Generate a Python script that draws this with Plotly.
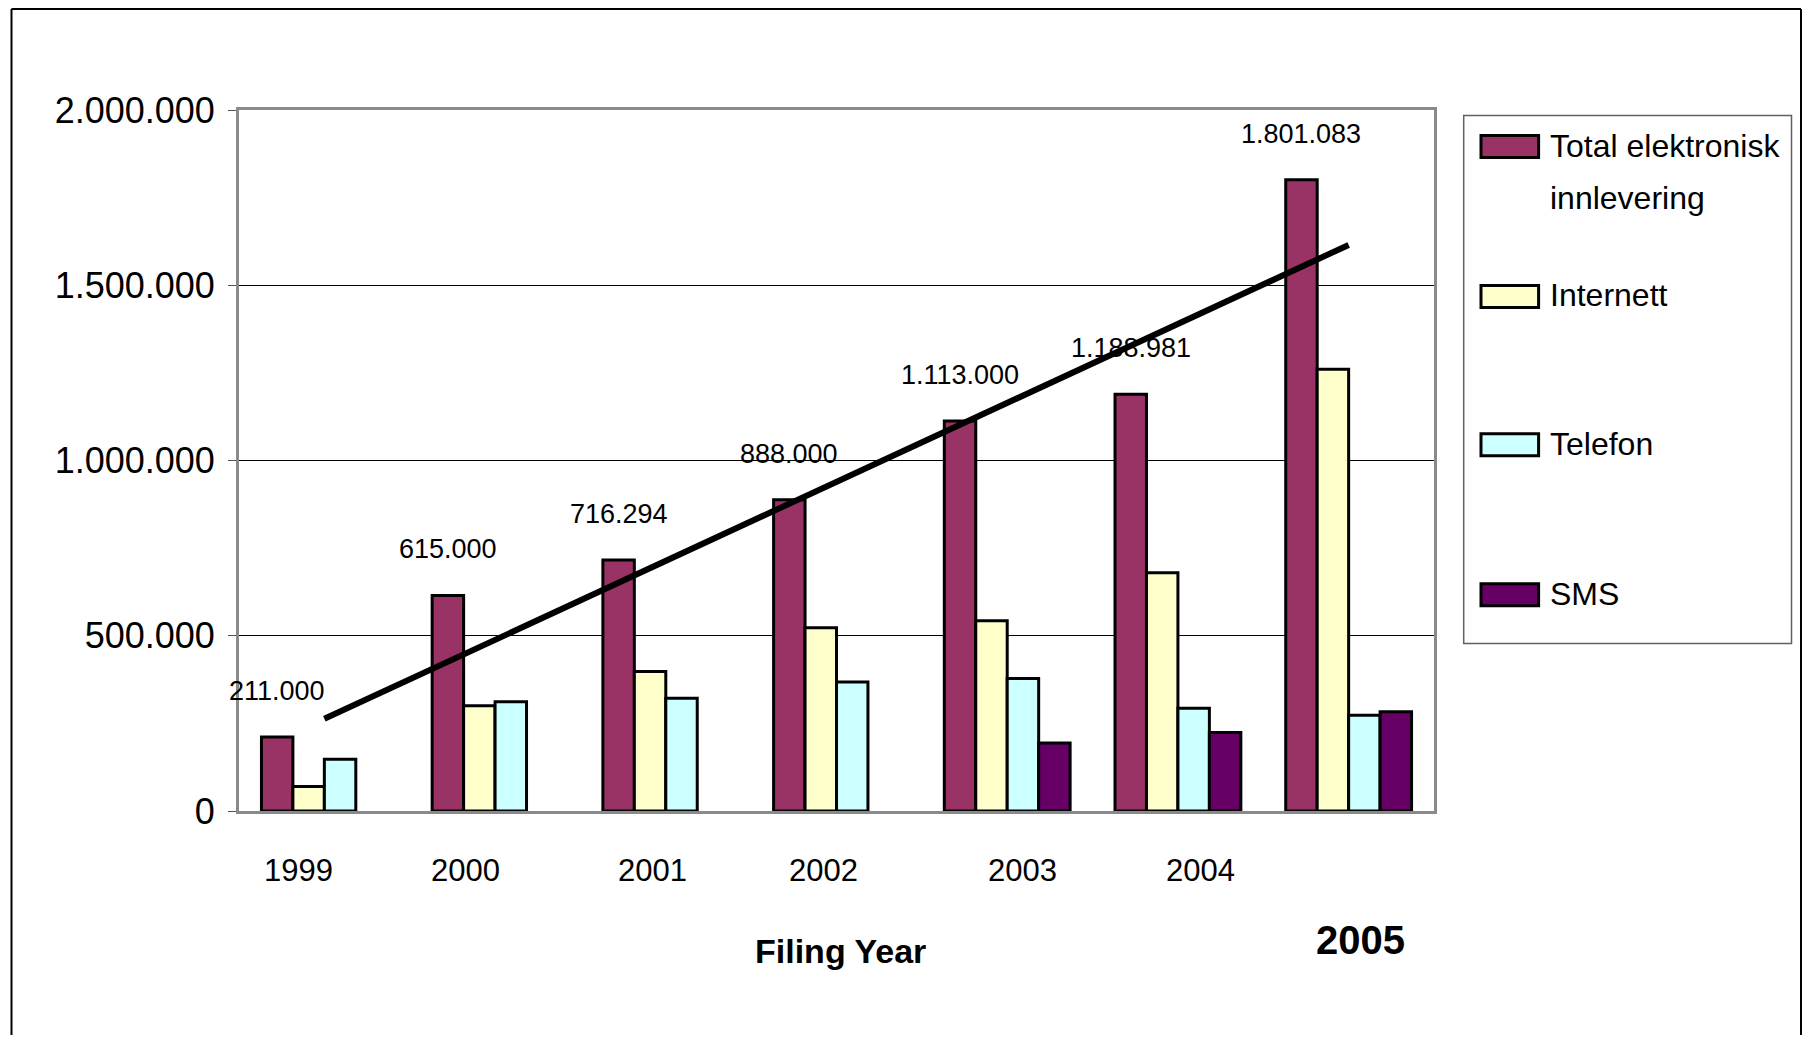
import plotly.graph_objects as go

# ---- data ----
years = ["1999", "2000", "2001", "2002", "2003", "2004", "2005"]
total = [211000, 615000, 716294, 888000, 1113000, 1188981, 1801083]
internett = [70000, 300000, 398000, 523000, 543000, 680000, 1260000]
telefon = [148000, 312000, 322000, 368000, 378000, 293000, 273000]
sms = [None, None, None, None, 194000, 224000, 283000]
trend_years = ["1999", "2005"]
trend_values = [263000, 1615000]

series_names = ["Total elektronisk<br>innlevering", "Internett", "Telefon", "SMS"]
series_colors = ["#993366", "#FFFFCC", "#CCFFFF", "#660066"]

# ---- page geometry (reference pixels) ----
W, H = 1794, 1027          # figure size; the page adds an 8px body margin
OFF = 8
PL, PR, PT, PB = 239, 1434, 110, 811.5   # plot area edges in the reference

FONT = "Liberation Sans, Arial, sans-serif"


def px(x):
    return (x - PL) / (PR - PL)


def py(y):
    return (PB - y) / (PB - PT)


fig = go.Figure()

for name, vals, col in zip(series_names, [total, internett, telefon, sms], series_colors):
    fig.add_trace(go.Bar(
        x=years, y=vals, name=name.replace("<br>", " "),
        marker=dict(color=col, line=dict(color="black", width=3)),
        showlegend=False,
    ))

# linear trend on the total
fig.add_trace(go.Scatter(
    x=trend_years, y=trend_values, mode="lines",
    line=dict(color="black", width=6), showlegend=False, hoverinfo="skip",
))

bargap = 0.263
slot = (PR - PL) / len(years) * (1 - bargap) / 4

annotations = []
# value labels above the total bars (category axis -> index positions)
for i, v in enumerate(total):
    annotations.append(dict(
        x=i, y=v, xref="x", yref="y", text=f"{v:,}".replace(",", "."),
        showarrow=False, xshift=-1.5 * slot, yshift=46, yanchor="middle",
        font=dict(family=FONT, size=27, color="black"),
    ))

# year labels (hand placed in the original)
nudges = [-26, -30, -13, -13, 15, 23]
for i, (yr, dx) in enumerate(zip(years[:-1], nudges)):
    annotations.append(dict(
        x=i, y=py(871.5), xref="x", yref="paper", text=yr, showarrow=False,
        xshift=dx, yanchor="middle", font=dict(family=FONT, size=31, color="black"),
    ))
annotations.append(dict(
    x=len(years) - 1, y=py(941), xref="x", yref="paper", text="<b>2005</b>", showarrow=False,
    xshift=12, yanchor="middle", font=dict(family=FONT, size=40, color="black"),
))
annotations.append(dict(
    x=px(840), y=py(952), xref="paper", yref="paper", text="<b>Filing Year</b>",
    showarrow=False, yanchor="middle", font=dict(family=FONT, size=34, color="black"),
))

# legend drawn by hand to get the wide swatches of the original
shapes = [dict(type="rect", xref="paper", yref="paper",
               x0=px(1463.7), x1=px(1791.5), y0=py(644), y1=py(115.4),
               line=dict(color="#606060", width=1.5), fillcolor="white")]
item_y = [146.6, 296.6, 445, 595]
line_step = 52
for name, col, yc in zip(series_names, series_colors, item_y):
    shapes.append(dict(type="rect", xref="paper", yref="paper",
                       x0=px(1481), x1=px(1538.6), y0=py(yc + 11), y1=py(yc - 11),
                       line=dict(color="black", width=3), fillcolor=col))
    for k, part in enumerate(name.split("<br>")):
        annotations.append(dict(
            x=px(1548), y=py(yc - 1 + k * line_step), xref="paper", yref="paper",
            text=part, showarrow=False, xanchor="left", yanchor="middle", align="left",
            font=dict(family=FONT, size=32, color="black"),
        ))

# outer frame of the original picture
for x0, y0, x1, y1 in [(11.5, 9, 11.5, 1040), (11.5, 9, 1801, 9), (1801, 9, 1801, 1040)]:
    shapes.append(dict(type="line", xref="paper", yref="paper",
                       x0=px(x0), x1=px(x1), y0=py(y0), y1=py(y1),
                       line=dict(color="black", width=2)))

fig.update_layout(
    width=W, height=H,
    margin=dict(l=PL - OFF, r=W - (PR - OFF), t=PT - OFF, b=H - (PB - OFF), autoexpand=False),
    barmode="group", bargap=bargap, bargroupgap=0,
    plot_bgcolor="white", paper_bgcolor="white",
    separators=",.",
    annotations=annotations, shapes=shapes,
    font=dict(family=FONT, color="black"),
)
fig.update_xaxes(
    type="category", range=[-0.5, len(years) - 0.5], showticklabels=False, ticks="",
    showline=True, linecolor="#8a8a8a", linewidth=3, mirror=True, showgrid=False,
)
fig.update_yaxes(
    range=[0, 2000000], tickvals=[0, 500000, 1000000, 1500000, 2000000], tickformat=",d",
    showgrid=True, gridcolor="black", gridwidth=1, zeroline=False,
    showline=True, linecolor="#8a8a8a", linewidth=3, mirror=True,
    ticks="outside", ticklen=8, tickcolor="#555555", ticklabelstandoff=6,
    tickfont=dict(family=FONT, size=36, color="black"),
)

fig.write_html("out.html")
